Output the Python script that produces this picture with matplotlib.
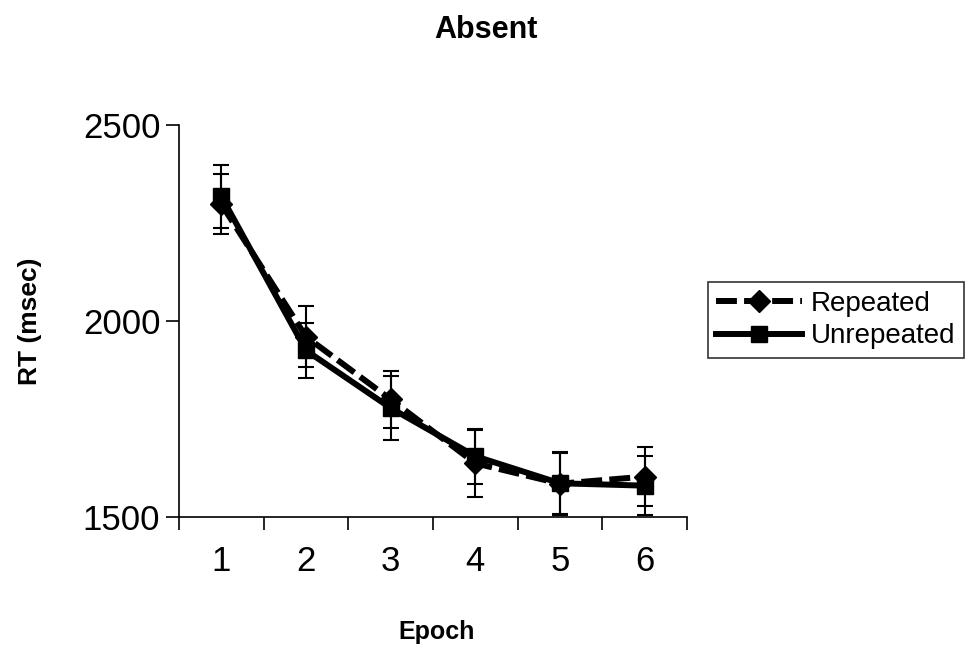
import matplotlib
matplotlib.use("Agg")
import matplotlib.pyplot as plt
from matplotlib.lines import Line2D
import numpy as np

plt.rcParams['font.family'] = ['Liberation Sans', 'DejaVu Sans']

epochs = [1, 2, 3, 4, 5, 6]
repeated = [2298, 1960, 1800, 1637, 1585, 1603]
repeated_err = [76, 78, 72, 85, 78, 76]
unrepeated = [2318, 1925, 1778, 1655, 1586, 1580]
unrepeated_err = [80, 70, 82, 70, 80, 76]

fig = plt.figure(figsize=(9.72, 6.52), dpi=100)
ax = fig.add_axes([179 / 972, 1 - 517 / 652, 508 / 972, 392 / 652])

rep_style = dict(color='black', lw=4.3, ls=(0, (3.5, 1.2)), marker='D', ms=11)
unrep_style = dict(color='black', lw=4.3, ls='-', marker='s', ms=12)

# Repeated: dashed line with diamonds
ax.errorbar(epochs, repeated, yerr=repeated_err, capsize=6, elinewidth=1.5,
            capthick=1.5, **rep_style)
# Unrepeated: solid line with squares
ax.errorbar(epochs, unrepeated, yerr=unrepeated_err, capsize=6, elinewidth=1.5,
            capthick=1.5, **unrep_style)

ax.set_xlim(0.5, 6.5)
ax.set_ylim(1500, 2500)
ax.set_yticks([1500, 2000, 2500])
ax.set_xticks(np.arange(0.5, 7, 1))
ax.set_xticklabels([])
ax.set_xticks(epochs, minor=True)
ax.set_xticklabels([str(e) for e in epochs], minor=True)
ax.tick_params(axis='x', which='major', length=9.5, width=1.2, direction='out')
ax.tick_params(axis='x', which='minor', length=0, labelsize=25, pad=20)
ax.tick_params(axis='y', length=9.5, width=1.2, labelsize=25, pad=4)

for side in ['top', 'right']:
    ax.spines[side].set_visible(False)
for side in ['left', 'bottom']:
    ax.spines[side].set_linewidth(1.2)

fig.text(0.5, 1 - 30 / 652, 'Absent', ha='center', va='center',
         fontsize=22, fontweight='bold')
fig.text(437 / 972, 1 - 632 / 652, 'Epoch', ha='center', va='center',
         fontsize=18, fontweight='bold')
fig.text(30 / 972, 1 - 321 / 652, 'RT (msec)', ha='center', va='center',
         fontsize=19, fontweight='bold', rotation=90)

handles = [Line2D([], [], **rep_style), Line2D([], [], **unrep_style)]
leg = fig.legend(handles, ['Repeated', 'Unrepeated'], loc='center left',
                 bbox_to_anchor=(708 / 972, 1 - 320 / 652),
                 fontsize=20, frameon=True, fancybox=False, handlelength=3.1,
                 borderpad=0.3, labelspacing=0.25, handletextpad=0.3,
                 borderaxespad=0)
leg.get_frame().set_edgecolor('black')
leg.get_frame().set_linewidth(1.2)

fig.savefig('out.png', dpi=100)
